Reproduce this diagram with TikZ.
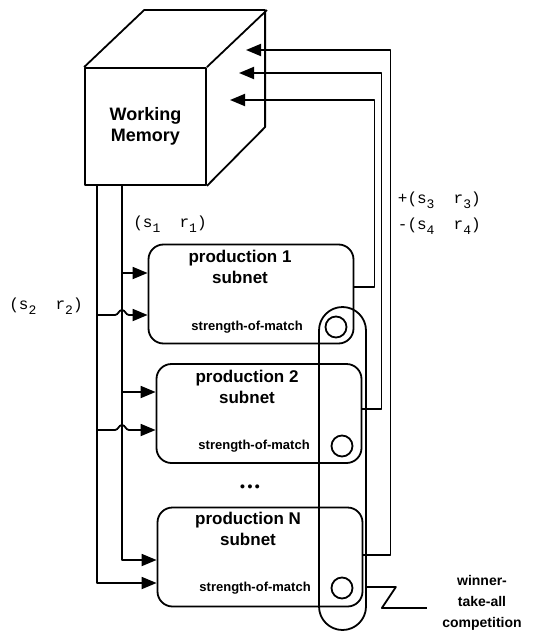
\documentclass[tikz,border=0pt]{standalone}
\usepackage{fontspec}
\setmainfont{Liberation Sans}
\setmonofont{Liberation Mono}
\usetikzlibrary{arrows.meta,positioning,calc}
\newcommand{\low}[1]{\raisebox{-4.5pt}{\fontsize{13}{13}\selectfont #1}}

\begin{document}
\begin{tikzpicture}[x=1pt, y=-1pt,
  line width=1.8pt, line join=round,
  memory/.style={draw, minimum width=121pt, minimum height=117pt, font=\fontsize{18}{21}\selectfont\bfseries, align=center},
  subnet/.style={draw, rounded corners=15pt, minimum width=205pt, minimum height=99pt},
  title/.style={font=\fontsize{17}{21}\selectfont\bfseries, align=center, inner sep=0pt},
  match/.style={font=\fontsize{13}{15}\selectfont\bfseries, inner sep=0pt},
  unit/.style={draw, circle, minimum size=21pt, inner sep=0pt},
  pair/.style={font=\fontsize{16}{26}\selectfont\ttfamily, inner sep=0pt, align=left},
  arrow/.style={-{Triangle[length=15pt,width=12pt]}}
]
\useasboundingbox (0,0) rectangle (535,634);

% working memory cube
\node[memory] (wm) at (145.5,126.5) {Working\\Memory};
\draw (wm.north west) -- ++(60,-57) -- ++(121,0) -- ++(0,117) -- (wm.south east);
\draw (wm.north east) -- ++(60,-57);
\coordinate (in1) at (246,50);
\coordinate (in2) at (239,73);
\coordinate (in3) at (230,100);

% production subnets
\node[subnet] (p1) at (251,294) {};
\node[subnet] (p2) at (259,413.5) {};
\node[subnet] (pN) at (260,557) {};
\node[title, below=6pt of p1.north, xshift=-11pt] (t1) {production 1\\subnet};
\node[title, below=6pt of p2.north, xshift=-12pt] (t2) {production 2\\subnet};
\node[title, below=5pt of pN.north, xshift=-12pt] (tN) {production N\\subnet};
\node[unit] (c1) at (336,327) {};
\node[unit] (c2) at (342,446) {};
\node[unit] (cN) at (342,588) {};
\node[match, left=21pt of c1] (m1) {strength-of-match};
\node[match, left=20pt of c2] (m2) {strength-of-match};
\node[match, left=19pt of cN] (mN) {strength-of-match};
\node[font=\fontsize{14}{14}\selectfont\bfseries] (dots) at (250,488) {•\hspace{2.5pt}•\hspace{2.5pt}•};

% winner-take-all
\node[draw, rounded corners=23.5pt, minimum width=47pt, minimum height=323pt] (wta) at (342.5,468.5) {};
\node[font=\fontsize{14}{21}\selectfont\bfseries, align=center, inner sep=0pt] (wtalabel) at (482,603) {winner-\\take-all\\competition};
\draw ([yshift=-118.5pt]wta.east) -- ++(29,0) -- ++(-14,21) -- ++(45,0);

% outputs back to memory
\draw[arrow] ([yshift=7pt]p1.east) -- ++(20,0) |- (in3);
\draw[arrow] ([yshift=4.5pt]p2.east) -- ++(19,0) |- (in2);
\draw[arrow] ([yshift=2pt]pN.east) -- ++(27,0) |- (in1);
\node[pair, anchor=west] (sr34) at (397,213) {+(s\low{3}\ \ r\low{3})\\-(s\low{4}\ \ r\low{4})};

% inputs from memory
\coordinate (wml) at ([xshift=-48.5pt]wm.south);
\coordinate (wmr) at ([xshift=-23.5pt]wm.south);
\coordinate (p1a) at ([yshift=21pt]p1.west);
\coordinate (p1b) at ([yshift=-21pt]p1.west);
\coordinate (p2a) at ([yshift=21.5pt]p2.west);
\coordinate (p2b) at ([yshift=-16.5pt]p2.west);
\coordinate (pNa) at ([yshift=-3pt]pN.west);
\coordinate (pNb) at ([yshift=-26pt]pN.west);
\coordinate (h1) at (wmr |- p1b);
\coordinate (h2) at (wmr |- p2b);
\draw[arrow] (wmr) |- (p1a);
\draw[arrow] (wmr) |- (p2a);
\draw[arrow] (wmr) |- (pNa);
\draw[arrow] (wml) |- (pNb);
\draw[arrow] (wml |- p1b) -- ([xshift=-7pt]h1) to[out=0,in=180] ++(7,-5) to[out=0,in=180] ++(7,5) -- (p1b);
\draw[arrow] (wml |- p2b) -- ([xshift=-7pt]h2) to[out=0,in=180] ++(7,-5) to[out=0,in=180] ++(7,5) -- (p2b);
\node[pair] (sr1) at (170,224) {(s\low{1}\ \ r\low{1})};
\node[pair] (sr2) at (46,306) {(s\low{2}\ \ r\low{2})};
\end{tikzpicture}
\end{document}
